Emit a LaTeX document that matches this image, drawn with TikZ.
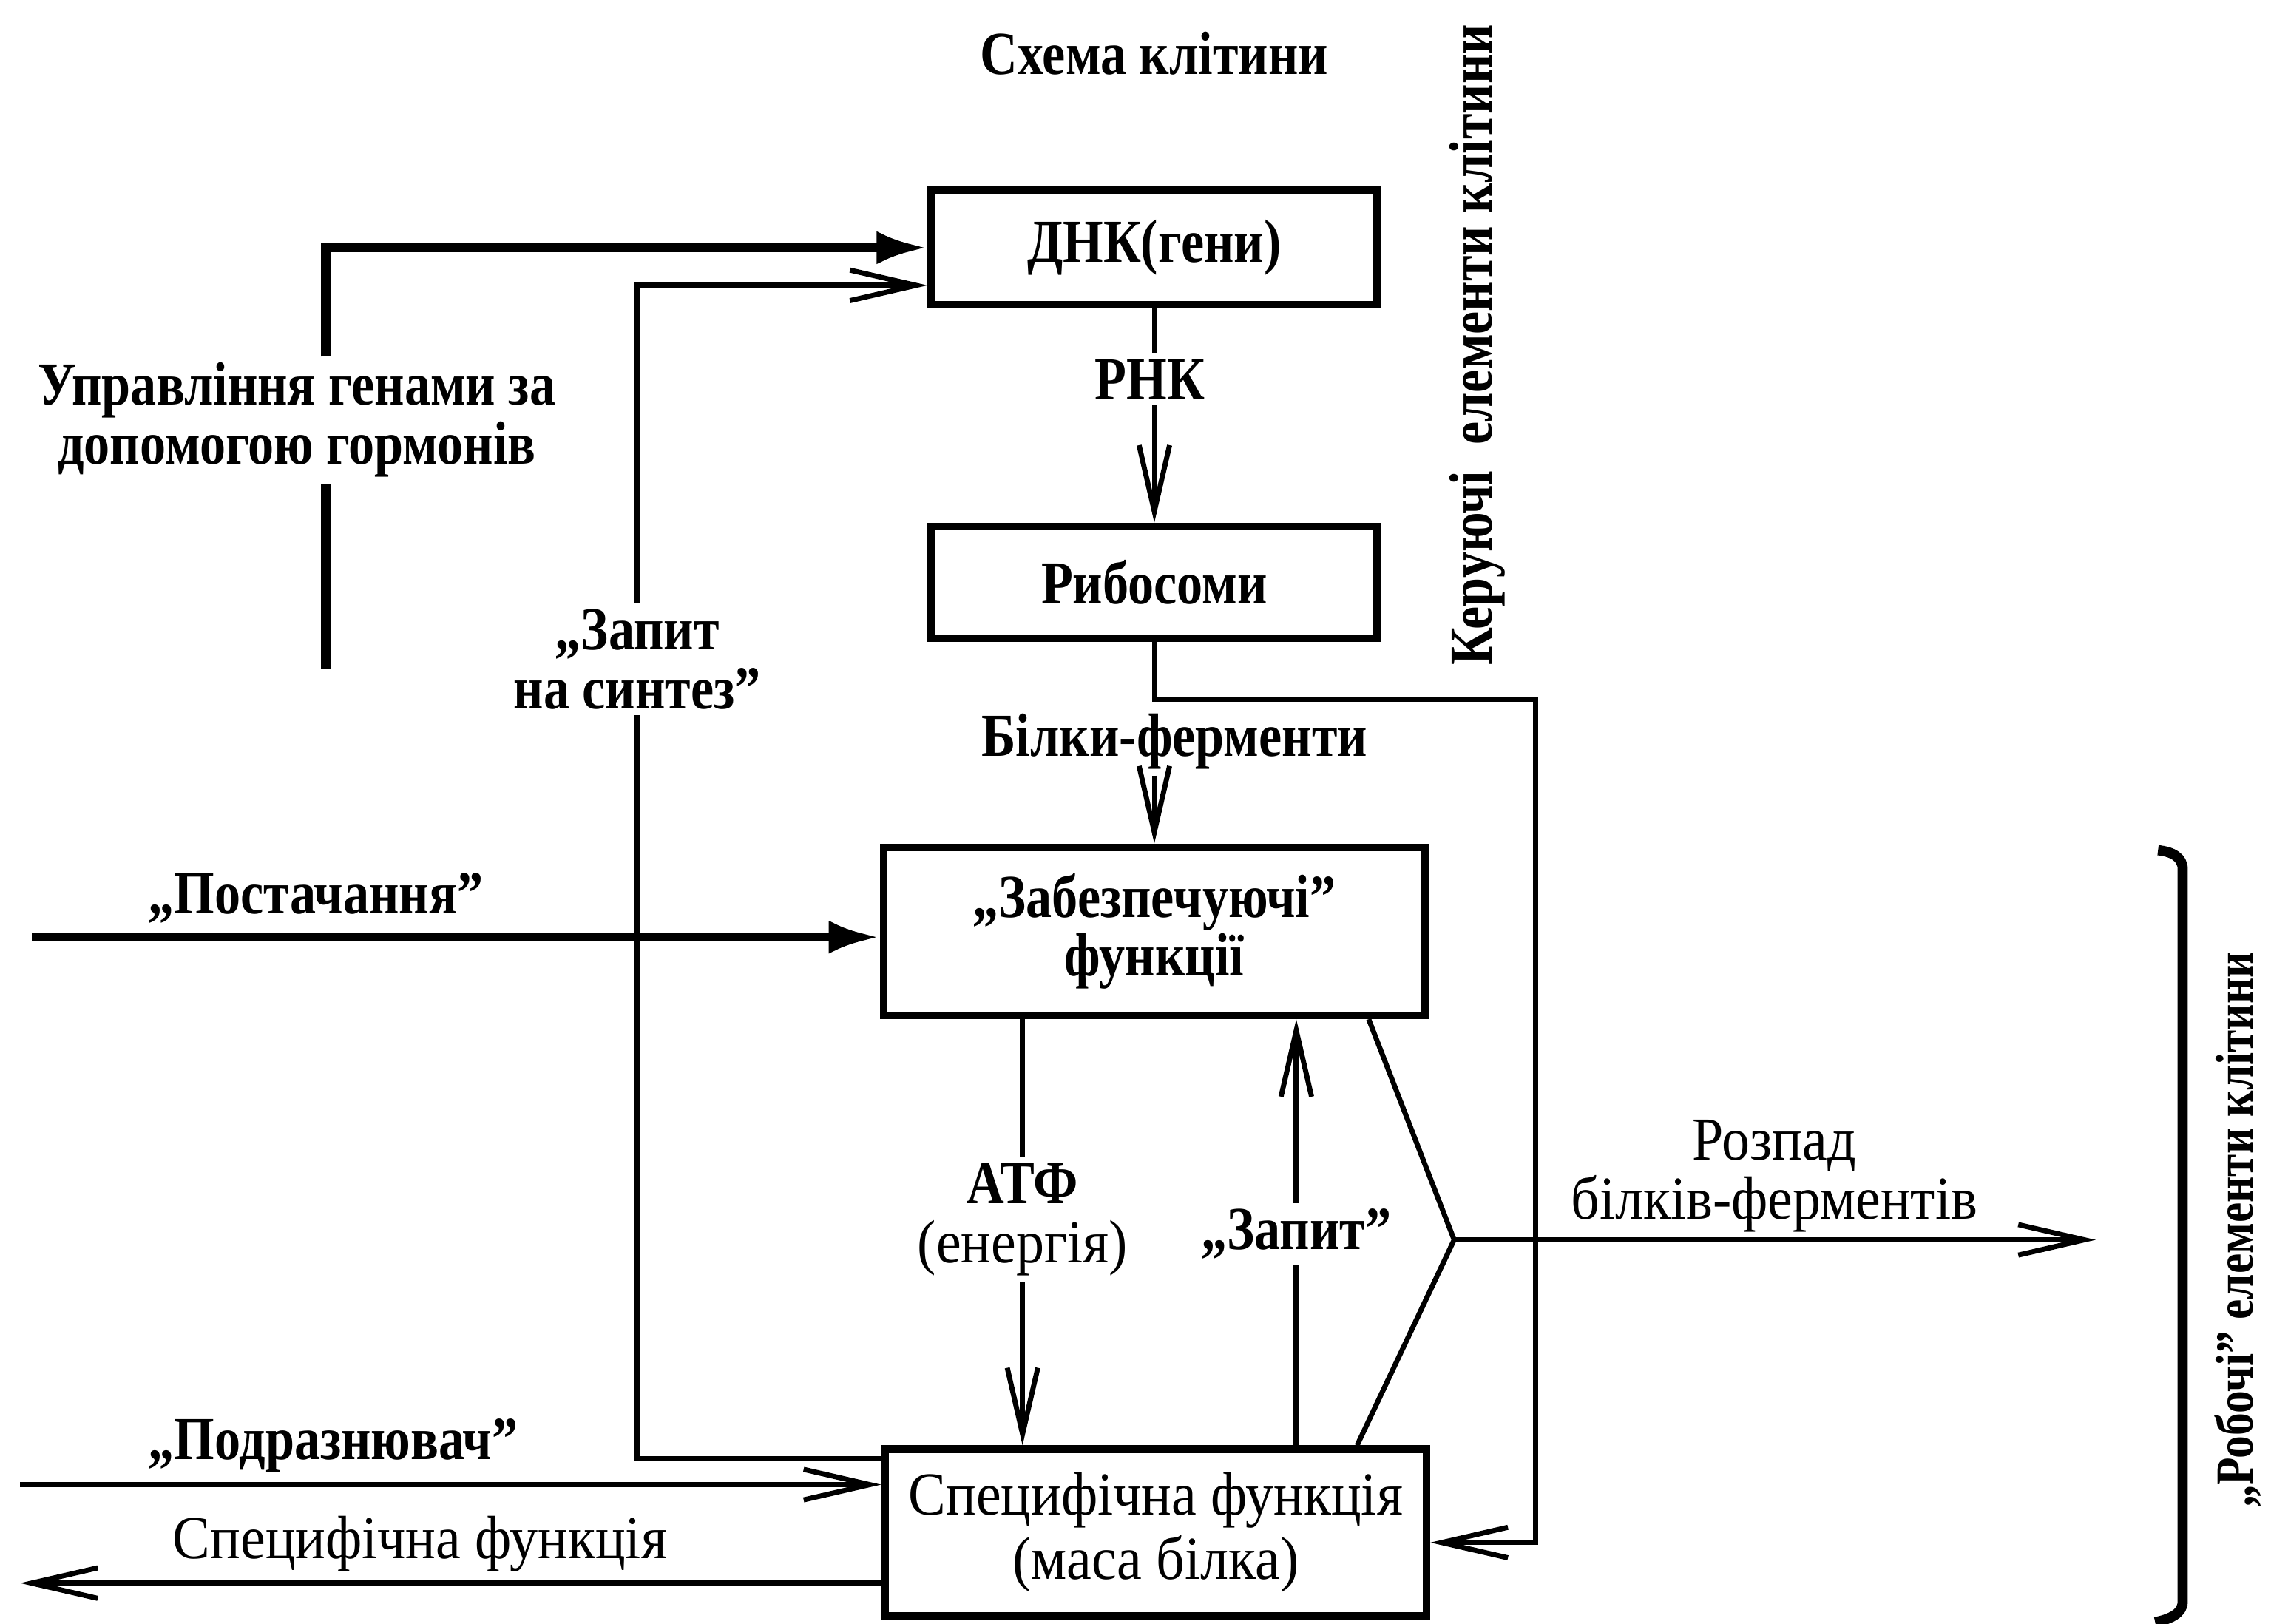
\documentclass[tikz,border=0pt]{standalone}
\usepackage{fontspec}
\setmainfont{Liberation Serif}[FakeStretch=0.92]
\newfontfamily\heavyfont{Liberation Serif Bold}[FakeStretch=0.85]
\usetikzlibrary{arrows.meta,positioning}
\newcommand{\boxw}{1.5pt}
\newcommand{\thinw}{1pt}
\newcommand{\heavyw}{1.8pt}
\newcommand{\txtsize}{\fontsize{12}{11.6}\selectfont}

\begin{document}
\begin{tikzpicture}[x=0.1mm,y=-0.1mm,
    box/.style={draw, line width=\boxw, inner sep=0pt, align=center, font=\txtsize\heavyfont},
    lbl/.style={inner sep=1pt, align=center, font=\txtsize\heavyfont},
    plain/.style={inner sep=1pt, align=center, font=\txtsize},
    wire/.style={line width=\thinw},
    flow/.style={wire, -{Straight Barb[length=13pt,width=6pt]}},
    heavy/.style={line width=\heavyw, -{Latex[length=10pt,width=6.5pt]}}]
    \useasboundingbox (0,0) rectangle (1568,1121);
    %\draw[help lines] (0,0) grid (1568,1121);

    \node[lbl] (title) at (797,37) {Схема клітини};

    % boxes
    \node[box, minimum width=30.8mm, minimum height=7.9mm] (dnk) at (797,171) {ДНК(гени)};
    \node[box, minimum width=30.8mm, minimum height=7.7mm] (ribo) at (797,402) {Рибосоми};
    \node[box, minimum width=37.4mm, minimum height=11.6mm] (zab) at (797,643) {„Забезпечуючі”\\функції};
    \node[box, font=\txtsize, minimum width=37.4mm, minimum height=11.5mm] (spec) at (798,1058) {Специфічна функція\\[1pt](маса білка)};

    % labels
    \node[lbl] (rnk) at (794,262) {РНК};
    \node[lbl] (bf) at (811,512) {Білки-ферменти};
    \node[lbl] (horm) at (205,290) {Управління генами за\\допомогою гормонів};
    \node[lbl] (zs) at (440,455) {„Запит\\на синтез”};
    \node[lbl] (post) at (218,620) {„Постачання”};
    \node[lbl] (podr) at (230,998) {„Подразнювач”};
    \node[plain] (out) at (290,1066) {Специфічна функція};
    \node[lbl] (atf) at (706,842) {АТФ\\{\normalfont(енергія)}};
    \node[lbl] (zap) at (895,852) {„Запит”};
    \node[plain] (decay) at (1225,812) {Розпад\\білків-ферментів};
    \node[lbl, rotate=90] (ker) at (1020,238) {Керуючі\ \ елементи клітини};
    \node[lbl, rotate=90, font=\fontsize{10.5}{11}\selectfont\heavyfont] (rob) at (1545,849) {„Робочі” елементи клітини};

    \coordinate (hormfoot) at (225,462);
    \coordinate (postin) at (22,647);
    \coordinate (podrin) at (14,1025);
    \coordinate (outend) at (14,1093);
    \coordinate (fork) at (797,483);
    \coordinate (apex) at (1004,856);
    \coordinate (decayend) at (1447,856);

    % connectors
    \draw[line width=\heavyw] (hormfoot) -- (hormfoot |- horm.south);
    \draw[heavy] (hormfoot |- horm.north) |- (dnk.west);
    \draw[wire] (spec.west |- 0,1007) -| (zs.south);
    \draw[flow] (zs.north) |- (dnk.west |- 0,197);
    \draw[heavy] (postin) -- (postin -| zab.west);
    \draw[flow] (podrin) -- (podrin -| spec.west);
    \draw[flow] (spec.west |- outend) -- (outend);

    \draw[wire] (dnk.south) -- (dnk.south |- rnk.north);
    \draw[flow] (dnk.south |- rnk.south) -- (ribo.north);
    \draw[flow] (ribo.south) -- (fork) -| (1060,1065) -- (spec.east |- 0,1065);
    \draw[flow] (fork |- bf.south) -- (zab.north);

    \draw[wire] (zab.south -| atf) -- (atf.north);
    \draw[flow] (atf.south) -- (spec.north -| atf);
    \draw[wire] (spec.north -| zap) -- (zap.south);
    \draw[flow] (zap.north) -- (zab.south -| zap);
    \draw[wire] (zab.south -| 945,0) -- (apex) -- (spec.north -| 937,0);
    \draw[flow] (apex) -- (decayend);

    % bracket
    \draw[line width=2pt] (1490,587) .. controls (1500,588) and (1507,592) .. (1507,600)
        -- (1507,1106) .. controls (1507,1114) and (1498,1118) .. (1488,1120);
\end{tikzpicture}
\end{document}
